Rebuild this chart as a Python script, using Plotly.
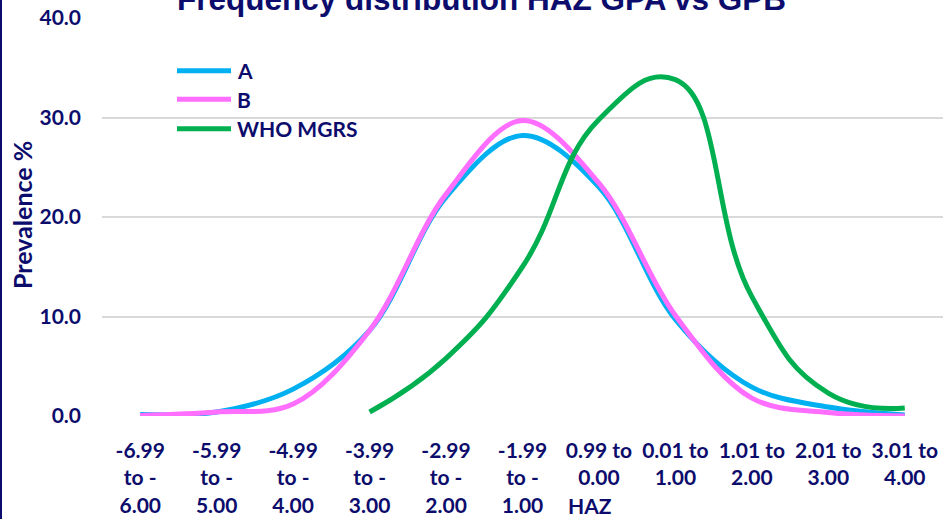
import plotly.graph_objects as go

# HAZ bands (tick labels, three lines each)
categories = [
    "-6.99<br>to -<br>6.00", "-5.99<br>to -<br>5.00", "-4.99<br>to -<br>4.00",
    "-3.99<br>to -<br>3.00", "-2.99<br>to -<br>2.00", "-1.99<br>to -<br>1.00",
    "0.99 to<br>0.00", "0.01 to<br>1.00", "1.01 to<br>2.00",
    "2.01 to<br>3.00", "3.01 to<br>4.00",
]

# Prevalence (%) per band
group_a = [0.15, 0.4, 2.7, 8.6, 22.0, 28.2, 23.0, 9.7, 2.9, 0.9, 0.1]
group_b = [0.05, 0.4, 1.2, 8.6, 22.3, 29.7, 23.4, 10.1, 1.8, 0.35, 0.0]
who_mgrs = [None, None, None, 0.4, 5.8, 15.0, 29.8, 33.8, 12.0, 2.3, 0.8]

# name, values, colour, spline smoothing
series = [
    ("A", group_a, "#00B0F0", 1.0),
    ("B", group_b, "#FF6EFF", 1.0),
    ("WHO MGRS", who_mgrs, "#00B050", 1.3),
]

NAVY = "#0C0C6C"
FONT = "Lato"

W, H = 943, 519
ML, MR, MT, MB = 102, 0, 18, 103
PW, PH = W - ML - MR, H - MT - MB


def px_x(x):
    return (x - ML) / PW


def px_y(y):
    return (MT + PH - y) / PH


xs = list(range(len(categories)))

fig = go.Figure()
for name, vals, color, smooth in series:
    fig.add_trace(go.Scatter(
        x=xs, y=vals, name=name, mode="lines",
        line=dict(color=color, width=5, shape="spline", smoothing=smooth),
        connectgaps=False, showlegend=False,
    ))

annotations = []
shapes = []

# Hand-placed legend in the upper-left of the plot
legend_y = [70.7, 99.3, 128.7]
for (name, _, color, _s), ly in zip(series, legend_y):
    shapes.append(dict(type="line", xref="paper", yref="paper",
                       x0=px_x(177), x1=px_x(231), y0=px_y(ly), y1=px_y(ly),
                       line=dict(color=color, width=5)))
    annotations.append(dict(text=f"<b>{name}</b>", xref="paper", yref="paper",
                            x=px_x(235), y=px_y(ly), xanchor="left", yanchor="middle",
                            showarrow=False, font=dict(family=FONT, size=21, color=NAVY)))

# Chart title (partly above the top edge)
annotations.append(dict(text="<b>Frequency distribution HAZ GPA vs GPB</b>",
                        xref="paper", yref="paper", x=px_x(481), y=px_y(-0.5),
                        xanchor="center", yanchor="middle", showarrow=False,
                        font=dict(family="Liberation Sans", size=31.5, color=NAVY)))

# Axis titles
annotations.append(dict(text="<b>Prevalence %</b>", xref="paper", yref="paper",
                        x=px_x(22), y=px_y(215), textangle=-90,
                        xanchor="center", yanchor="middle", showarrow=False,
                        font=dict(family=FONT, size=25, color=NAVY)))
annotations.append(dict(text="<b>HAZ</b>", xref="paper", yref="paper",
                        x=px_x(590), y=px_y(505),
                        xanchor="center", yanchor="middle", showarrow=False,
                        font=dict(family=FONT, size=21, color=NAVY)))

# Left frame edge
shapes.append(dict(type="line", xref="paper", yref="paper",
                   x0=px_x(1), x1=px_x(1), y0=px_y(0), y1=px_y(H),
                   line=dict(color=NAVY, width=2)))

fig.update_layout(
    width=W, height=H,
    margin=dict(l=ML, r=MR, t=MT, b=MB),
    paper_bgcolor="white", plot_bgcolor="white",
    showlegend=False,
    annotations=annotations, shapes=shapes,
    xaxis=dict(
        range=[-0.5, len(categories) - 0.5],
        tickmode="array", tickvals=xs, ticktext=[f"<b>{c}</b>" for c in categories],
        showgrid=False, zeroline=False, showline=False, ticks="",
        tickfont=dict(family=FONT, size=21, color=NAVY),
        ticklabelstandoff=20,
    ),
    yaxis=dict(
        range=[0, 40], dtick=10, tickformat=".1f",
        showgrid=True, gridcolor="#D9D9D9", gridwidth=1.6,
        zeroline=False, showline=False, ticks="",
        tickfont=dict(family=FONT, size=21, color=NAVY, weight="bold"),
        ticklabelstandoff=20,
    ),
)

fig.write_html("out.html")
